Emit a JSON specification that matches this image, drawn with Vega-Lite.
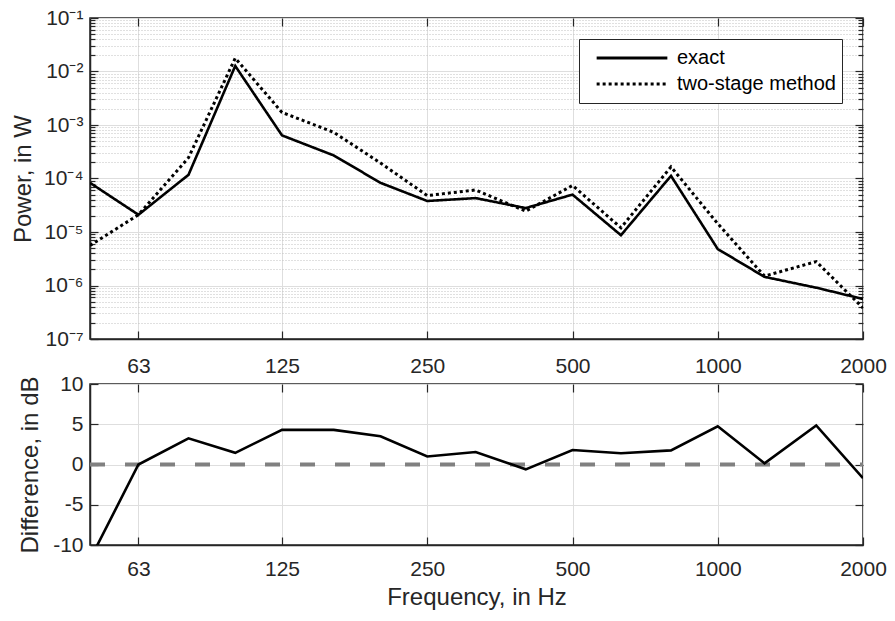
{
  "$schema": "https://vega.github.io/schema/vega-lite/v6.json",
  "background": "white",
  "padding": {"left": 10, "top": 6, "right": 5, "bottom": 5},
  "bounds": "flush",
  "spacing": 45,
  "datasets": {
    "power": [
      {"f": 50, "p": 8.3e-5, "s": "exact"},
      {"f": 63, "p": 2.1e-5, "s": "exact"},
      {"f": 80, "p": 1.17e-4, "s": "exact"},
      {"f": 100, "p": 1.27e-2, "s": "exact"},
      {"f": 125, "p": 6.4e-4, "s": "exact"},
      {"f": 160, "p": 2.7e-4, "s": "exact"},
      {"f": 200, "p": 8.3e-5, "s": "exact"},
      {"f": 250, "p": 3.8e-5, "s": "exact"},
      {"f": 315, "p": 4.3e-5, "s": "exact"},
      {"f": 400, "p": 2.8e-5, "s": "exact"},
      {"f": 500, "p": 5.0e-5, "s": "exact"},
      {"f": 630, "p": 8.7e-6, "s": "exact"},
      {"f": 800, "p": 1.12e-4, "s": "exact"},
      {"f": 1000, "p": 4.8e-6, "s": "exact"},
      {"f": 1250, "p": 1.45e-6, "s": "exact"},
      {"f": 1600, "p": 9.1e-7, "s": "exact"},
      {"f": 2000, "p": 5.6e-7, "s": "exact"},
      {"f": 50, "p": 5.6e-6, "s": "two-stage method"},
      {"f": 63, "p": 2.1e-5, "s": "two-stage method"},
      {"f": 80, "p": 2.45e-4, "s": "two-stage method"},
      {"f": 100, "p": 1.78e-2, "s": "two-stage method"},
      {"f": 125, "p": 1.72e-3, "s": "two-stage method"},
      {"f": 160, "p": 7.3e-4, "s": "two-stage method"},
      {"f": 200, "p": 1.95e-4, "s": "two-stage method"},
      {"f": 250, "p": 4.8e-5, "s": "two-stage method"},
      {"f": 315, "p": 6.1e-5, "s": "two-stage method"},
      {"f": 400, "p": 2.45e-5, "s": "two-stage method"},
      {"f": 500, "p": 7.4e-5, "s": "two-stage method"},
      {"f": 630, "p": 1.2e-5, "s": "two-stage method"},
      {"f": 800, "p": 1.65e-4, "s": "two-stage method"},
      {"f": 1000, "p": 1.43e-5, "s": "two-stage method"},
      {"f": 1250, "p": 1.5e-6, "s": "two-stage method"},
      {"f": 1600, "p": 2.8e-6, "s": "two-stage method"},
      {"f": 2000, "p": 3.8e-7, "s": "two-stage method"}
    ],
    "diff": [
      {"f": 50, "d": -11.8},
      {"f": 63, "d": 0},
      {"f": 80, "d": 3.25},
      {"f": 100, "d": 1.45},
      {"f": 125, "d": 4.3},
      {"f": 160, "d": 4.3},
      {"f": 200, "d": 3.5},
      {"f": 250, "d": 1.0},
      {"f": 315, "d": 1.55},
      {"f": 400, "d": -0.6},
      {"f": 500, "d": 1.8},
      {"f": 630, "d": 1.4},
      {"f": 800, "d": 1.75},
      {"f": 1000, "d": 4.75},
      {"f": 1250, "d": 0.15},
      {"f": 1600, "d": 4.85},
      {"f": 2000, "d": -1.7}
    ],
    "zero": [
      {"f": 50, "d": 0},
      {"f": 2000, "d": 0}
    ]
  },
  "vconcat": [
    {
      "width": 773,
      "height": 321,
      "layer": [
        {
          "data": {"name": "power"},
          "transform": [{"filter": "datum.s === 'exact'"}],
          "mark": {"type": "line", "color": "black", "strokeWidth": 2.6, "clip": true},
          "encoding": {
            "x": {
              "field": "f", "type": "quantitative",
              "scale": {"type": "log", "domain": [50, 2000], "nice": false},
              "axis": {
                "orient": "bottom", "title": null,
                "values": [63, 125, 250, 500, 1000, 2000], "labelExpr": "'' + datum.value",
                "grid": true, "tickSize": -8, "labelPadding": 24, "labelFlush": false
              }
            },
            "y": {
              "field": "p", "type": "quantitative",
              "scale": {"type": "log", "domain": [1e-7, 0.1], "nice": false},
              "axis": {
                "orient": "left", "title": "Power, in W", "titlePadding": 8,
                "values": [1e-7,2e-7,3e-7,4e-7,5e-7,6e-7,7e-7,8e-7,9e-7,1e-6,2e-6,3e-6,4e-6,5e-6,6e-6,7e-6,8e-6,9e-6,1e-5,2e-5,3e-5,4e-5,5e-5,6e-5,7e-5,8e-5,9e-5,1e-4,2e-4,3e-4,4e-4,5e-4,6e-4,7e-4,8e-4,9e-4,1e-3,2e-3,3e-3,4e-3,5e-3,6e-3,7e-3,8e-3,9e-3,1e-2,2e-2,3e-2,4e-2,5e-2,6e-2,7e-2,8e-2,9e-2,1e-1],
                "labelExpr": "abs(log(datum.value)/LN10 - round(log(datum.value)/LN10)) < 0.001 ? '10⁻' + ['⁰','¹','²','³','⁴','⁵','⁶','⁷'][-round(log(datum.value)/LN10)] : ''",
                "labelOverlap": false, "labelPadding": 15,
                "grid": true,
                "gridDash": {"condition": {"test": "abs(log(datum.value)/LN10 - round(log(datum.value)/LN10)) < 0.001", "value": []}, "value": [1, 2]},
                "gridColor": {"condition": {"test": "abs(log(datum.value)/LN10 - round(log(datum.value)/LN10)) < 0.001", "value": "#dedede"}, "value": "#c0c0c0"},
                "tickSize": {"condition": {"test": "abs(log(datum.value)/LN10 - round(log(datum.value)/LN10)) < 0.001", "value": -8}, "value": -5}
              }
            },
            "strokeDash": {
              "field": "s", "type": "nominal",
              "scale": {"domain": ["exact", "two-stage method"], "range": [[1, 0], [3, 3]]},
              "legend": {
                "title": null, "orient": "top-right", "offset": 21,
                "symbolType": "stroke", "symbolSize": 5000, "symbolStrokeWidth": 2.8,
                "symbolStrokeColor": "black", "clipHeight": 26,
                "labelFontSize": 20, "labelFont": "Liberation Sans", "labelColor": "black",
                "symbolOffset": 10, "labelOffset": 8,
                "strokeColor": "#262626", "fillColor": "white", "padding": 6, "rowPadding": 0
              }
            }
          }
        },
        {
          "data": {"name": "power"},
          "transform": [{"filter": "datum.s === 'two-stage method'"}],
          "mark": {"type": "line", "color": "black", "strokeWidth": 3, "strokeCap": "butt", "clip": true},
          "encoding": {
            "x": {
              "field": "f", "type": "quantitative",
              "axis": {
                "orient": "top", "title": null, "labels": false, "domain": false,
                "values": [63, 125, 250, 500, 1000, 2000], "grid": false, "tickSize": -8
              }
            },
            "y": {
              "field": "p", "type": "quantitative",
              "axis": {
                "orient": "right", "title": null, "labels": false, "domain": false, "grid": false,
                "values": [1e-7,2e-7,3e-7,4e-7,5e-7,6e-7,7e-7,8e-7,9e-7,1e-6,2e-6,3e-6,4e-6,5e-6,6e-6,7e-6,8e-6,9e-6,1e-5,2e-5,3e-5,4e-5,5e-5,6e-5,7e-5,8e-5,9e-5,1e-4,2e-4,3e-4,4e-4,5e-4,6e-4,7e-4,8e-4,9e-4,1e-3,2e-3,3e-3,4e-3,5e-3,6e-3,7e-3,8e-3,9e-3,1e-2,2e-2,3e-2,4e-2,5e-2,6e-2,7e-2,8e-2,9e-2,1e-1],
                "tickSize": {"condition": {"test": "abs(log(datum.value)/LN10 - round(log(datum.value)/LN10)) < 0.001", "value": -8}, "value": -5}
              }
            },
            "strokeDash": {"field": "s", "type": "nominal"}
          }
        }
      ]
    },
    {
      "width": 773,
      "height": 161,
      "layer": [
        {
          "data": {"name": "zero"},
          "mark": {"type": "line", "color": "#808080", "strokeWidth": 4, "strokeDash": [15, 20], "strokeCap": "butt"},
          "encoding": {
            "x": {
              "field": "f", "type": "quantitative",
              "scale": {"type": "log", "domain": [50, 2000], "nice": false},
              "axis": {
                "orient": "top", "title": null, "labels": false, "domain": false,
                "values": [63, 125, 250, 500, 1000, 2000], "grid": false, "tickSize": -8
              }
            },
            "y": {
              "field": "d", "type": "quantitative",
              "scale": {"domain": [-10, 10], "nice": false},
              "axis": {
                "orient": "right", "title": null, "labels": false, "domain": false, "grid": false,
                "values": [-10, -5, 0, 5, 10], "tickSize": -8
              }
            }
          }
        },
        {
          "data": {"name": "diff"},
          "mark": {"type": "line", "color": "black", "strokeWidth": 2.6, "clip": true},
          "encoding": {
            "x": {
              "field": "f", "type": "quantitative",
              "axis": {
                "orient": "bottom", "title": "Frequency, in Hz", "titlePadding": 6,
                "values": [63, 125, 250, 500, 1000, 2000], "labelExpr": "'' + datum.value",
                "grid": true, "tickSize": -8, "labelPadding": 21, "labelFlush": false
              }
            },
            "y": {
              "field": "d", "type": "quantitative",
              "axis": {
                "orient": "left", "title": "Difference, in dB", "titlePadding": 10,
                "values": [-10, -5, 0, 5, 10], "labelExpr": "'' + datum.value",
                "grid": true, "tickSize": -8, "labelPadding": 15
              }
            }
          }
        }
      ]
    }
  ],
  "config": {
    "view": {"stroke": "#262626", "strokeWidth": 1.5},
    "axis": {
      "domainColor": "#262626", "domainWidth": 1.5,
      "tickColor": "#262626", "tickWidth": 1.2,
      "labelColor": "#262626", "titleColor": "#262626",
      "labelFont": "Liberation Sans", "titleFont": "Liberation Sans",
      "labelFontSize": 21, "titleFontSize": 24, "titleFontWeight": "normal",
      "gridColor": "#dedede", "gridWidth": 1
    }
  }
}
